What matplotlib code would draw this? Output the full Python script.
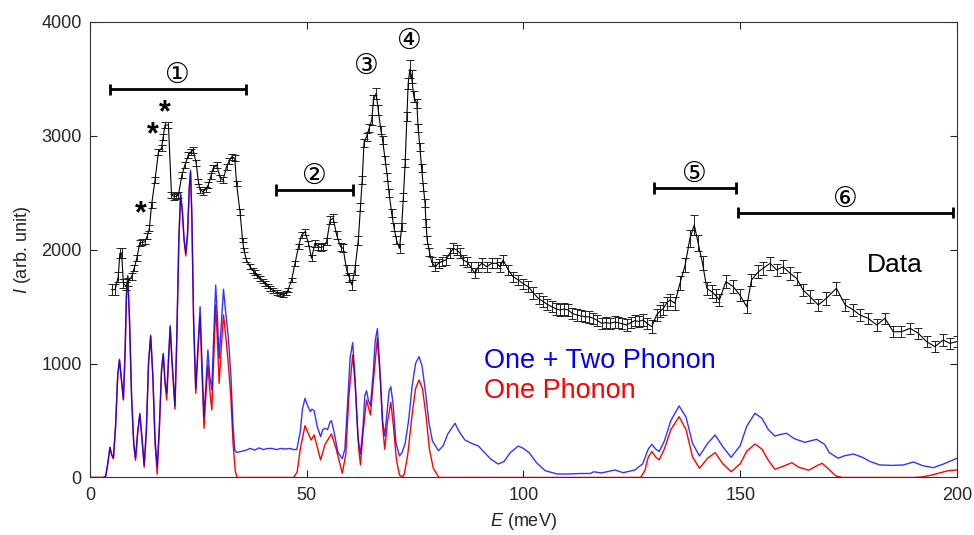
import matplotlib
matplotlib.use("Agg")
import matplotlib.pyplot as plt

plt.rcParams['font.family'] = ['Liberation Sans', 'DejaVu Sans']
plt.rcParams['mathtext.fontset'] = 'custom'
plt.rcParams['mathtext.it'] = 'Liberation Sans:italic'
plt.rcParams['mathtext.rm'] = 'Liberation Sans'

# measured spectrum (meV, arb. unit)
data_e = [5.0, 5.8, 6.5, 6.9, 7.3, 7.7, 8.3, 8.8, 9.6, 10.2, 10.8, 11.5, 12.1, 12.7, 13.2, 13.7,
          14.2, 15.0, 15.8, 16.5, 16.9, 17.3, 18.1, 18.8, 19.4, 19.9, 20.4, 21.2, 21.9, 22.7,
          23.3, 23.8, 24.5, 25.0, 25.4, 26.1, 26.7, 27.3, 27.9, 28.4, 29.2, 30.1, 30.7, 31.5,
          32.1, 32.7, 33.4, 33.8, 34.6, 35.2, 35.5, 36.1, 36.9, 37.5, 38.1, 38.6, 39.2, 39.8,
          40.4, 41.0, 41.5, 42.3, 43.1, 43.8, 44.6, 45.2, 45.7, 46.5, 47.3, 48.1, 48.8, 49.6,
          50.4, 51.1, 51.9, 52.7, 53.3, 53.8, 54.6, 55.4, 56.1, 56.9, 57.8, 58.4, 59.2, 59.8,
          60.4, 61.1, 61.9, 62.4, 62.8, 63.2, 63.8, 64.4, 65.0, 65.4, 66.0, 66.5, 67.1, 67.5,
          68.1, 68.6, 69.0, 69.6, 70.1, 70.7, 71.4, 71.9, 72.3, 72.7, 73.1, 73.4, 73.8, 74.2,
          74.7, 75.4, 75.7, 76.1, 76.5, 76.9, 77.3, 77.5, 77.8, 78.3, 78.8, 79.6, 80.4, 81.1,
          82.1, 83.0, 83.8, 84.6, 85.4, 86.1, 86.9, 87.8, 88.8, 89.6, 90.4, 91.5, 92.7, 93.8,
          94.6, 95.3, 96.5, 97.6, 98.8, 100.0, 101.1, 102.3, 103.5, 104.6, 105.5, 106.5, 107.5,
          108.4, 109.4, 110.3, 111.3, 112.3, 113.2, 114.2, 115.2, 116.1, 117.0, 118.0, 119.0,
          120.0, 121.0, 121.9, 122.8, 123.8, 124.8, 125.7, 126.6, 127.6, 128.6, 129.6, 130.7,
          131.5, 132.3, 133.0, 133.8, 134.9, 136.1, 137.3, 138.4, 139.4, 140.3, 141.3, 142.3,
          143.4, 144.3, 145.2, 146.7, 148.4, 149.9, 151.5, 152.6, 154.2, 155.3, 156.9, 158.4,
          159.9, 161.5, 163.0, 164.5, 166.1, 168.0, 169.9, 172.2, 174.2, 176.1, 177.6, 179.5,
          181.5, 183.4, 185.3, 187.2, 189.2, 191.1, 193.0, 194.9, 196.8, 198.4, 199.9]
data_i = [1650, 1650, 1760, 1970, 1970, 1705, 1680, 1720, 1763, 1840, 1925, 2062, 2065, 2071, 2120, 2188,
          2393, 2612, 2861, 2891, 2990, 3095, 3095, 2481, 2466, 2470, 2481, 2656, 2744, 2832,
          2860, 2876, 2759, 2600, 2524, 2510, 2530, 2569, 2650, 2715, 2744, 2627, 2612, 2729,
          2780, 2817, 2803, 2583, 2334, 2085, 1998, 1910, 1851, 1820, 1798, 1770, 1749, 1725,
          1705, 1680, 1661, 1640, 1623, 1610, 1603, 1620, 1647, 1734, 1881, 2027, 2129, 2158,
          2056, 1925, 2056, 2027, 2020, 2027, 2071, 2261, 2276, 2129, 2027, 2012, 1822, 1760,
          1691, 1822, 2085, 2378, 2612, 2934, 2993, 3066, 3139, 3315, 3373, 3227, 3051, 2963,
          2788, 2641, 2495, 2320, 2202, 2085, 2012, 2202, 2466, 2759, 3168, 3461, 3584, 3520,
          3344, 3286, 3066, 2905, 2715, 2554, 2408, 2232, 2085, 1983, 1895, 1851, 1881, 1895,
          1910, 1969, 2012, 1998, 1969, 1910, 1895, 1851, 1793, 1851, 1881, 1851, 1881, 1881,
          1851, 1910, 1822, 1763, 1734, 1700, 1676, 1620, 1570, 1544, 1520, 1500, 1480,
          1471, 1480, 1471, 1440, 1427, 1420, 1412, 1410, 1398, 1380, 1354, 1360,
          1354, 1365, 1359, 1350, 1339, 1360, 1377, 1370, 1383, 1350, 1324, 1427,
          1460, 1486, 1530, 1559, 1530, 1705, 1866, 2100, 2217, 2056, 1881, 1661,
          1632, 1600, 1559, 1720, 1676, 1603, 1500, 1734, 1807, 1837, 1881, 1822,
          1851, 1793, 1749, 1647, 1588, 1515, 1574, 1661, 1515, 1471, 1427, 1398,
          1339, 1398, 1280, 1280, 1310, 1266, 1193, 1149, 1207, 1178, 1193]
data_err = [45, 45, 45, 45, 45, 40, 35, 35, 30, 25, 25, 25, 25, 25, 25, 25,
            25, 25, 25, 25, 25, 25, 25, 25, 25, 25, 25, 25, 25, 25,
            25, 25, 25, 25, 25, 25, 25, 25, 25, 25, 25, 25, 25, 25,
            25, 25, 25, 25, 25, 20, 20, 20, 20, 20, 20, 20, 20, 20,
            20, 20, 20, 20, 20, 20, 20, 20, 20, 20, 20, 20, 25, 25,
            25, 25, 30, 30, 30, 30, 30, 35, 35, 35, 35, 35, 40, 40,
            45, 40, 40, 35, 35, 35, 35, 35, 40, 40, 45, 40, 35, 35,
            35, 35, 35, 35, 35, 35, 40, 35, 35, 35, 40, 50, 80, 60,
            50, 40, 35, 35, 35, 35, 35, 35, 35, 35, 40, 40, 40, 40,
            40, 45, 45, 45, 45, 45, 45, 45, 45, 45, 45, 45, 45, 45,
            45, 45, 45, 45, 45, 45, 50, 50, 50, 50, 50, 50, 50,
            50, 50, 50, 50, 50, 50, 50, 50, 50, 50, 50, 50,
            50, 50, 50, 50, 50, 50, 50, 50, 50, 50, 55, 55,
            55, 55, 55, 55, 55, 60, 65, 75, 85, 70, 60, 55,
            55, 55, 55, 55, 55, 55, 55, 55, 55, 55, 55, 55,
            55, 55, 55, 55, 55, 55, 55, 55, 50, 50, 50, 50,
            50, 50, 50, 50, 50, 50, 50, 50, 50, 50, 50]

# calculated one + two phonon spectrum
total_e = [0, 3.0, 3.6, 4.1, 4.6, 5.0, 5.4, 5.9, 6.4, 6.8, 7.3, 7.7, 8.1, 8.4, 8.7, 9.1, 9.6,
           10.1, 10.5, 11.0, 11.5, 12.0, 12.5, 13.0, 13.5, 14.0, 14.5, 15.0, 15.5, 16.0, 16.5,
           16.9, 17.3, 17.7, 18.1, 18.5, 18.9, 19.6, 20.0, 20.5, 20.9, 21.3, 21.7, 22.1, 22.5,
           22.9, 23.2, 23.5, 23.9, 24.4, 24.9, 25.4, 25.8, 26.3, 26.7, 27.2, 27.6, 28.1, 28.5,
           29.0, 29.4, 29.8, 30.3, 30.8, 31.3, 31.9, 32.5, 33.0, 33.4, 33.8, 35, 36, 37, 38,
           39, 40, 41, 42, 43, 44, 45, 46, 47, 47.7, 48.5, 49.0, 49.6, 50.1, 50.8, 51.2, 51.7,
           52.4, 53.2, 53.7, 54.2, 54.8, 55.4, 55.7, 56.3, 57.2, 58.2, 58.8, 59.5, 60.0, 60.6,
           61.1, 61.8, 62.4, 63.0, 63.4, 63.8, 64.2, 64.7, 65.3, 65.8, 66.3, 66.8, 67.5, 68.0,
           68.6, 69.0, 69.4, 69.9, 70.6, 71.4, 72.0, 72.7, 73.5, 74.3, 75.1, 75.9, 76.6, 77.4,
           78.2, 79.0, 80.4, 81.5, 82.5, 84.2, 85.2, 86.5, 88.0, 89.6, 91.0, 92.5, 94.2, 95.5,
           97.0, 98.8, 100.0, 101.3, 103.0, 105.0, 107.7, 110, 113, 115.4, 116.2, 118, 121.1,
           123, 125.7, 127.5, 128.8, 129.6, 130.5, 131.3, 132.5, 134.0, 135.9, 137.5, 139.0,
           140.6, 142.5, 144.2, 146.0, 147.9, 150.0, 151.5, 153.4, 155.0, 156.5, 158.0, 159.5,
           160.7, 162.5, 164.9, 167.6, 169.5, 170.5, 172.6, 174.0, 176.1, 178.0, 180.0, 182.2,
           185.0, 187.6, 190.0, 192.0, 194.5, 197.0, 200.0]
total_i = [0, 0, 10, 120, 265, 200, 170, 450, 900, 1038, 850, 690, 1100, 1600, 1770, 1400, 700,
           300, 170, 400, 563, 350, 110, 420, 1000, 1250, 900, 350, 95, 450, 950,
           1090, 850, 740, 1050, 1333, 1050, 630, 1200, 2100, 2495, 2350, 2100, 1970, 2150,
           2550, 2700, 2300, 1400, 780, 1150, 1500, 1050, 534, 800, 1120, 900, 768, 1200,
           1690, 1400, 1047, 1350, 1653, 1450, 1236, 900, 450, 240, 220, 230, 240, 255, 240,
           260, 245, 255, 255, 245, 255, 250, 255, 245, 245, 400, 600, 695, 640, 578, 600, 587,
           450, 358, 420, 432, 420, 490, 499, 400, 220, 165, 250, 700, 1050, 1184,
           900, 350, 206, 450, 720, 762, 680, 628, 900, 1200, 1307, 1000, 500, 364,
           600, 760, 797, 650, 300, 189, 220, 300, 500, 800, 1000, 1061, 980, 750,
           480, 320, 235, 280, 380, 476, 400, 329, 300, 276, 220, 160, 118, 140,
           220, 276, 255, 218, 130, 60, 31, 30, 35, 35, 50, 40, 66,
           42, 66, 120, 250, 291, 250, 227, 320, 500, 628, 530, 300,
           189, 300, 373, 270, 177, 280, 450, 564, 520, 420, 364, 380,
           388, 340, 309, 335, 290, 220, 169, 190, 206, 180, 140, 110,
           106, 110, 136, 105, 86, 120, 169]

# calculated one phonon spectrum
one_e = [0, 3.0, 3.6, 4.1, 4.6, 5.0, 5.4, 5.9, 6.4, 6.8, 7.3, 7.7, 8.1, 8.4, 8.7, 9.1, 9.6,
         10.1, 10.5, 11.0, 11.5, 12.0, 12.5, 13.0, 13.5, 14.0, 14.5, 15.0, 15.5, 16.0, 16.5,
         16.9, 17.3, 17.7, 18.1, 18.5, 18.9, 19.6, 20.0, 20.5, 20.9, 21.3, 21.7, 22.1, 22.5,
         22.9, 23.2, 23.5, 23.9, 24.4, 24.9, 25.4, 25.8, 26.3, 26.7, 27.2, 27.6, 28.1, 28.5,
         29.0, 29.4, 29.8, 30.3, 30.8, 31.3, 31.9, 32.5, 33.0, 33.5, 33.9, 47.0, 47.8, 48.5,
         49.6, 51.0, 51.7, 53.2, 54.2, 55.7, 56.8, 58.2, 59.0, 59.7, 60.6, 61.2, 62.0, 62.4,
         63.0, 63.8, 64.7, 65.5, 66.3, 67.0, 67.5, 68.0, 68.6, 69.4, 70.0, 70.7, 71.4, 72.0,
         72.5, 73.3, 74.3, 75.1, 75.9, 76.7, 77.5, 78.3, 79.2, 80.5, 127.0, 128.0, 128.8,
         129.6, 130.5, 131.3, 132.5, 134.0, 135.9, 137.5, 139.0, 140.6, 142.5, 144.2, 146.0,
         147.9, 150.0, 151.5, 153.4, 155.0, 156.5, 158.0, 160.0, 161.9, 163.5, 165.8, 167.5,
         168.9, 170.5, 172.0, 173.5, 190.0, 192.0, 194.0, 196.0, 198.0, 200.0]
one_i = [0, 0, 10, 120, 265, 200, 165, 450, 900, 1030, 840, 680, 1100, 1600, 1770, 1400, 700,
         280, 150, 390, 555, 330, 90, 400, 1000, 1240, 880, 300, 30, 420, 930,
         1080, 830, 680, 1000, 1320, 1020, 600, 1180, 2080, 2480, 2330, 2080, 1945, 2120,
         2530, 2680, 2270, 1350, 739, 1100, 1412, 950, 432, 700, 988, 780, 593, 1000,
         1515, 1200, 827, 1150, 1427, 1250, 1003, 700, 300, 60, 0, 0, 50, 250,
         455, 329, 373, 154, 290, 382, 250, 37, 200, 700, 1076, 800, 250, 110,
         400, 680, 549, 900, 1222, 850, 450, 248, 480, 660, 450, 150, 22, 5,
         30, 200, 550, 780, 856, 780, 550, 250, 80, 0, 0, 60, 180,
         227, 180, 154, 250, 420, 534, 420, 180, 81, 170, 218, 120,
         51, 120, 230, 294, 250, 150, 72, 100, 130, 90, 64, 100,
         125, 70, 15, 0, 0, 5, 20, 40, 60, 66]

# labelled energy ranges: (start, end, height, label)
range_bars = [(4.6, 35.9, 3409, '①'), (42.9, 60.7, 2525, '②'),
              (130.1, 149.0, 2542, '⑤'), (149.6, 199.1, 2325, '⑥')]
peak_labels = [(63.7, 3614, '③'), (73.8, 3830, '④')]
star_marks = [(17.3, 3271), (14.6, 3081), (11.7, 2384)]

fig = plt.figure(figsize=(9.74, 5.35), dpi=100)
ax = fig.add_axes([0.0924, 0.1075, 0.8901, 0.8514])

ax.plot(one_e, one_i, color='red', lw=1.0, solid_joinstyle='round')
ax.plot(total_e, total_i, color='blue', lw=1.0, alpha=0.8, solid_joinstyle='round')

ax.errorbar(data_e, data_i, yerr=data_err, color='black', lw=0.8, ecolor='#222222',
            elinewidth=0.7, capsize=3.0, capthick=0.7)

for x0, x1, y, lab in range_bars:
    ax.plot([x0, x1], [y, y], color='black', lw=2.0, solid_capstyle='butt')
    ax.plot([x0, x0], [y - 50, y + 50], color='black', lw=2.0, solid_capstyle='butt')
    ax.plot([x1, x1], [y - 50, y + 50], color='black', lw=2.0, solid_capstyle='butt')
    ax.text((x0 + x1) / 2, y + 125, lab, fontsize=20, ha='center', va='center',
            family=['DejaVu Sans'])
for x, y, lab in peak_labels:
    ax.text(x, y, lab, fontsize=20, ha='center', va='center', family=['DejaVu Sans'])
for x, y in star_marks:
    ax.annotate('*', xy=(x, y), xytext=(0, -12), textcoords='offset points',
                fontsize=22, fontweight='bold', ha='center', va='baseline')

ax.text(179.2, 1807, 'Data', fontsize=19, color='black', va='baseline')
ax.text(90.9, 962, 'One + Two Phonon', fontsize=19.5, color='blue', va='baseline')
ax.text(90.9, 702, 'One Phonon', fontsize=19.5, color='red', va='baseline')

ax.set_xlim(0, 200)
ax.set_ylim(0, 4000)
ax.set_xticks([0, 50, 100, 150, 200])
ax.set_yticks([0, 1000, 2000, 3000, 4000])
ax.tick_params(direction='in', top=True, right=True, length=5, width=0.8,
               labelsize=13, colors='#262626')
ax.tick_params(axis='x', pad=7)
ax.tick_params(axis='y', pad=6)
for s in ax.spines.values():
    s.set_color('#333333')
    s.set_linewidth(0.8)

ax.set_xlabel(r'$\it{E}$ (meV)', fontsize=13, color='#262626', labelpad=5)
ax.set_ylabel(r'$\it{I}$ (arb. unit)', fontsize=13, color='#262626', labelpad=6)

fig.savefig('out.png', dpi=100)
